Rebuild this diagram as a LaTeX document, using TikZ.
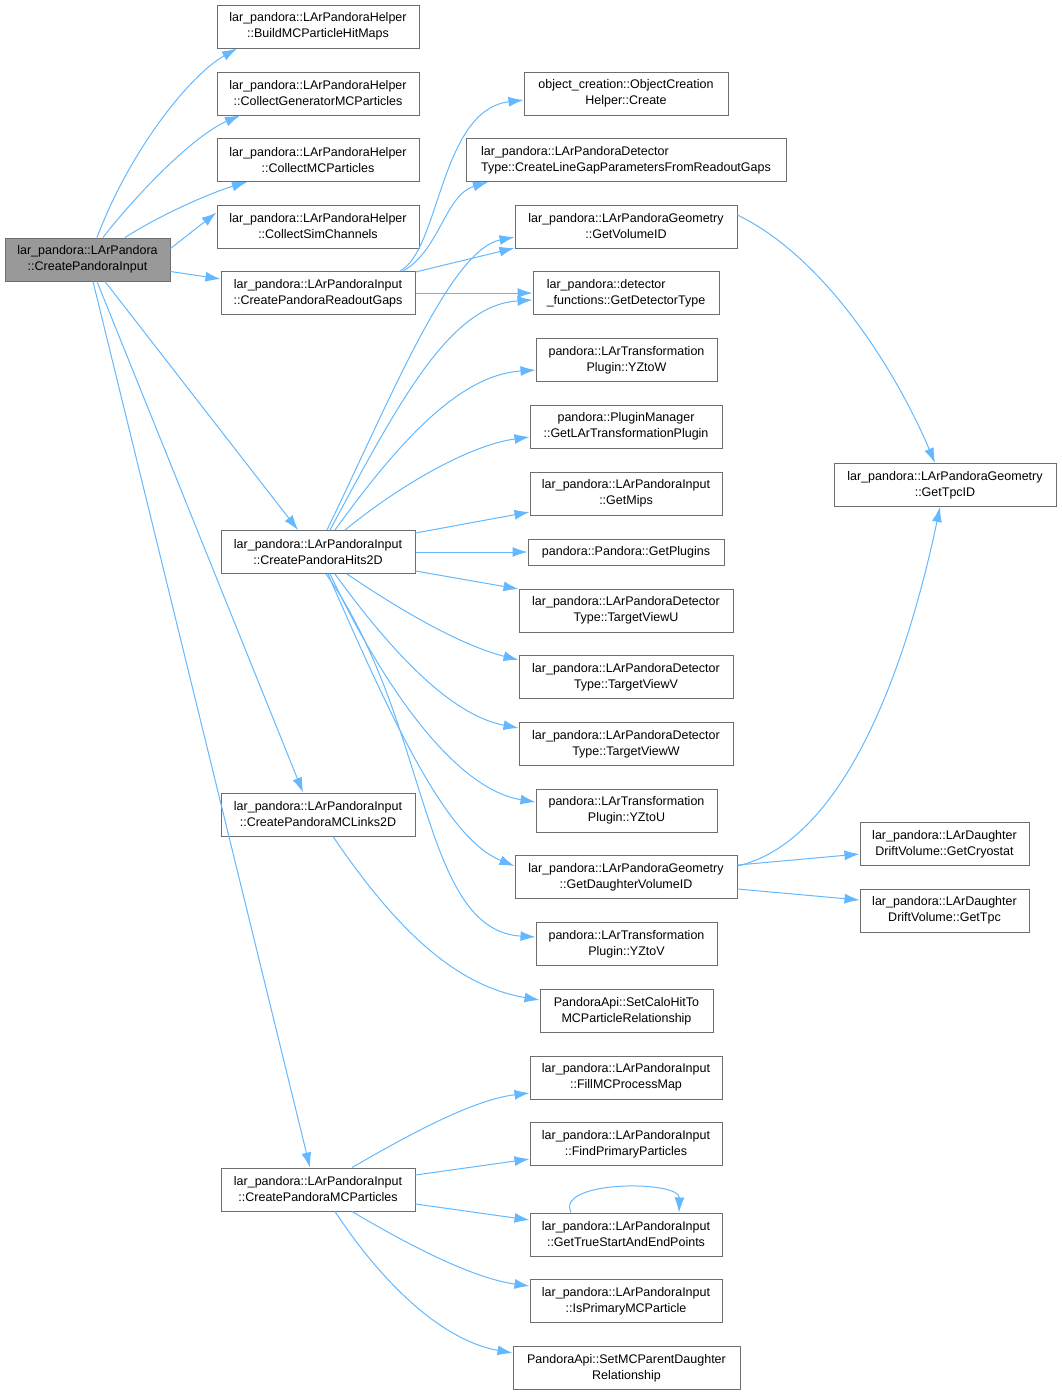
\documentclass[tikz,border=0pt]{standalone}
\usepackage{fontspec}
\setmainfont{Liberation Sans}
\usetikzlibrary{arrows.meta}
\definecolor{boxline}{RGB}{110,110,110}
\definecolor{rootfill}{RGB}{153,153,153}
\definecolor{callblue}{RGB}{99,184,255}
\newcommand{\fnfont}{\fontsize{12.5}{16}\selectfont}
\tikzset{
  fn box/.style={
    draw=boxline,
    fill=white,
    line width=1pt,
    minimum width={#1pt},
    minimum height=43pt,
    inner sep=0pt,
    align=center,
    font=\fnfont,
  },
  root box/.style={
    fn box=#1,
    fill=rootfill,
  },
  call/.style={
    draw=callblue,
    line width=1pt,
    -{Latex[length=15pt,width=10pt]},
  }
}

\begin{document}
\begin{tikzpicture}[x=1pt,y=-1pt]
        \useasboundingbox (0,0) rectangle (1061,1395);

        % caller
        \node [root box=165] (root) at (87.5,259.5) {lar\_pandora::LArPandora\\::CreatePandoraInput};

        % first level
        \node [fn box=202] (hitmaps) at (318,26.5) {lar\_pandora::LArPandoraHelper\\::BuildMCParticleHitMaps};
        \node [fn box=202] (genmc) at (318,93.5) {lar\_pandora::LArPandoraHelper\\::CollectGeneratorMCParticles};
        \node [fn box=202] (collmc) at (318,160) {lar\_pandora::LArPandoraHelper\\::CollectMCParticles};
        \node [fn box=202] (simch) at (318,226.5) {lar\_pandora::LArPandoraHelper\\::CollectSimChannels};
        \node [fn box=194] (gaps) at (318,293) {lar\_pandora::LArPandoraInput\\::CreatePandoraReadoutGaps};
        \node [fn box=194] (hits) at (318,552) {lar\_pandora::LArPandoraInput\\::CreatePandoraHits2D};
        \node [fn box=194] (links) at (318,814.5) {lar\_pandora::LArPandoraInput\\::CreatePandoraMCLinks2D};
        \node [fn box=194] (mcparts) at (318,1189.5) {lar\_pandora::LArPandoraInput\\::CreatePandoraMCParticles};

        % second level
        \node [fn box=204] (create) at (626,93.5) {object\_creation::ObjectCreation\\Helper::Create};
        \node [fn box=320, align=left] (linegap) at (626,160) {lar\_pandora::LArPandoraDetector\\Type::CreateLineGapParametersFromReadoutGaps};
        \node [fn box=222] (volid) at (626,226.5) {lar\_pandora::LArPandoraGeometry\\::GetVolumeID};
        \node [fn box=186, align=left] (dettype) at (626,293) {lar\_pandora::detector\\\_functions::GetDetectorType};
        \node [fn box=181] (yzw) at (626.5,360) {pandora::LArTransformation\\Plugin::YZtoW};
        \node [fn box=192] (plugin) at (626,426.5) {pandora::PluginManager\\::GetLArTransformationPlugin};
        \node [fn box=192] (mips) at (626,493.5) {lar\_pandora::LArPandoraInput\\::GetMips};
        \node [fn box=196, minimum height=26pt] (plugins) at (626,552) {pandora::Pandora::GetPlugins};
        \node [fn box=214] (viewu) at (626,610.5) {lar\_pandora::LArPandoraDetector\\Type::TargetViewU};
        \node [fn box=214] (viewv) at (626,677) {lar\_pandora::LArPandoraDetector\\Type::TargetViewV};
        \node [fn box=214] (vieww) at (626,744) {lar\_pandora::LArPandoraDetector\\Type::TargetViewW};
        \node [fn box=181] (yzu) at (626.5,810.5) {pandora::LArTransformation\\Plugin::YZtoU};
        \node [fn box=222] (dauvol) at (626,877) {lar\_pandora::LArPandoraGeometry\\::GetDaughterVolumeID};
        \node [fn box=181] (yzv) at (626.5,944) {pandora::LArTransformation\\Plugin::YZtoV};
        \node [fn box=173] (calohit) at (626.5,1011) {PandoraApi::SetCaloHitTo\\MCParticleRelationship};
        \node [fn box=192] (procmap) at (626,1077.5) {lar\_pandora::LArPandoraInput\\::FillMCProcessMap};
        \node [fn box=192] (primary) at (626,1144) {lar\_pandora::LArPandoraInput\\::FindPrimaryParticles};
        \node [fn box=192] (startend) at (626,1234.5) {lar\_pandora::LArPandoraInput\\::GetTrueStartAndEndPoints};
        \node [fn box=192] (isprim) at (626,1301) {lar\_pandora::LArPandoraInput\\::IsPrimaryMCParticle};
        \node [fn box=227] (parent) at (626.5,1368) {PandoraApi::SetMCParentDaughter\\Relationship};

        % third level
        \node [fn box=222] (tpcid) at (945,485) {lar\_pandora::LArPandoraGeometry\\::GetTpcID};
        \node [fn box=169] (cryo) at (944.5,844) {lar\_pandora::LArDaughter\\DriftVolume::GetCryostat};
        \node [fn box=169] (tpc) at (944.5,910.5) {lar\_pandora::LArDaughter\\DriftVolume::GetTpc};

        % calls from the caller
        \draw [call] ([xshift=9.5]root.north) .. controls (130,150) and (190,75) .. ([xshift=-81]hitmaps.south);
        \draw [call] ([xshift=15.5]root.north) .. controls (140,190) and (195,135) .. ([xshift=-78]genmc.south);
        \draw [call] ([xshift=37.5]root.north) .. controls (160,215) and (210,193) .. ([xshift=-71]collmc.south);
        \draw [call] ([yshift=11]root.east) -- ([yshift=14]simch.west);
        \draw [call] ([yshift=-12]root.east) -- ([yshift=14]gaps.west);
        \draw [call] ([xshift=17.5]root.south) -- ([xshift=-20]hits.north);
        \draw [call] ([xshift=9.5]root.south) -- ([xshift=-15]links.north);
        \draw [call] ([xshift=5.5]root.south) -- ([xshift=-8]mcparts.north);

        % calls from the readout gaps
        \draw [call] ([xshift=82]gaps.north) .. controls (440,250) and (440,110) .. ([yshift=-6.5]create.west);
        \draw [call] ([xshift=85]gaps.north) .. controls (440,250) and (445,195) .. ([xshift=-138]linegap.south);
        \draw [call] ([yshift=21]gaps.east) -- ([yshift=-21.5]volid.west);
        \draw [call] (gaps.east) -- (dettype.west);

        % calls from the hits
        \draw [call] ([xshift=9]hits.north) .. controls (390,400) and (450,250) .. ([yshift=-10.5]volid.west);
        \draw [call] ([xshift=12]hits.north) .. controls (400,400) and (450,305) .. ([yshift=-7]dettype.west);
        \draw [call] ([xshift=17]hits.north) .. controls (400,440) and (460,375) .. ([yshift=-10]yzw.west);
        \draw [call] ([xshift=27]hits.north) .. controls (400,485) and (470,445) .. ([yshift=-10.5]plugin.west);
        \draw [call] ([yshift=19]hits.east) -- ([yshift=-18.5]mips.west);
        \draw [call] (hits.east) -- (plugins.west);
        \draw [call] ([yshift=-19]hits.east) -- ([yshift=21.5]viewu.west);
        \draw [call] ([xshift=29]hits.south) .. controls (400,610) and (460,645) .. ([yshift=17]viewv.west);
        \draw [call] ([xshift=17]hits.south) .. controls (390,650) and (450,715) .. ([yshift=16]vieww.west);
        \draw [call] ([xshift=12]hits.south) .. controls (390,700) and (460,790) .. ([yshift=8.5]yzu.west);
        \draw [call] ([xshift=10]hits.south) .. controls (400,740) and (450,840) .. ([yshift=11]dauvol.west);
        \draw [call] ([xshift=8]hits.south) .. controls (430,720) and (420,930) .. ([yshift=7]yzv.west);

        % calls from the links
        \draw [call] ([xshift=15]links.south) .. controls (390,920) and (450,985) .. ([yshift=11]calohit.west);

        % calls from the particles
        \draw [call] ([xshift=34]mcparts.north) .. controls (400,1140) and (470,1100) .. ([yshift=-15.5]procmap.west);
        \draw [call] ([yshift=14.5]mcparts.east) -- ([yshift=-15]primary.west);
        \draw [call] ([yshift=-14.5]mcparts.east) -- ([yshift=14.5]startend.west);
        \draw [call] ([xshift=34]mcparts.south) .. controls (400,1240) and (470,1278) .. ([yshift=15]isprim.west);
        \draw [call] ([xshift=17]mcparts.south) .. controls (380,1280) and (440,1340) .. ([yshift=15]parent.west);
        \draw [call] ([xshift=-55]startend.north) .. controls (555,1180) and (680,1180) .. ([xshift=53]startend.north);

        % calls from the geometry
        \draw [call] ([yshift=11.5]volid.east) .. controls (830,260) and (900,380) .. ([xshift=-10]tpcid.north);
        \draw [call] ([yshift=11]dauvol.east) .. controls (850,840) and (910,650) .. ([xshift=-5]tpcid.south);
        \draw [call] ([yshift=12]dauvol.east) -- ([yshift=-10]cryo.west);
        \draw [call] ([yshift=-12]dauvol.east) -- ([yshift=10.5]tpc.west);
      \end{tikzpicture}
\end{document}
